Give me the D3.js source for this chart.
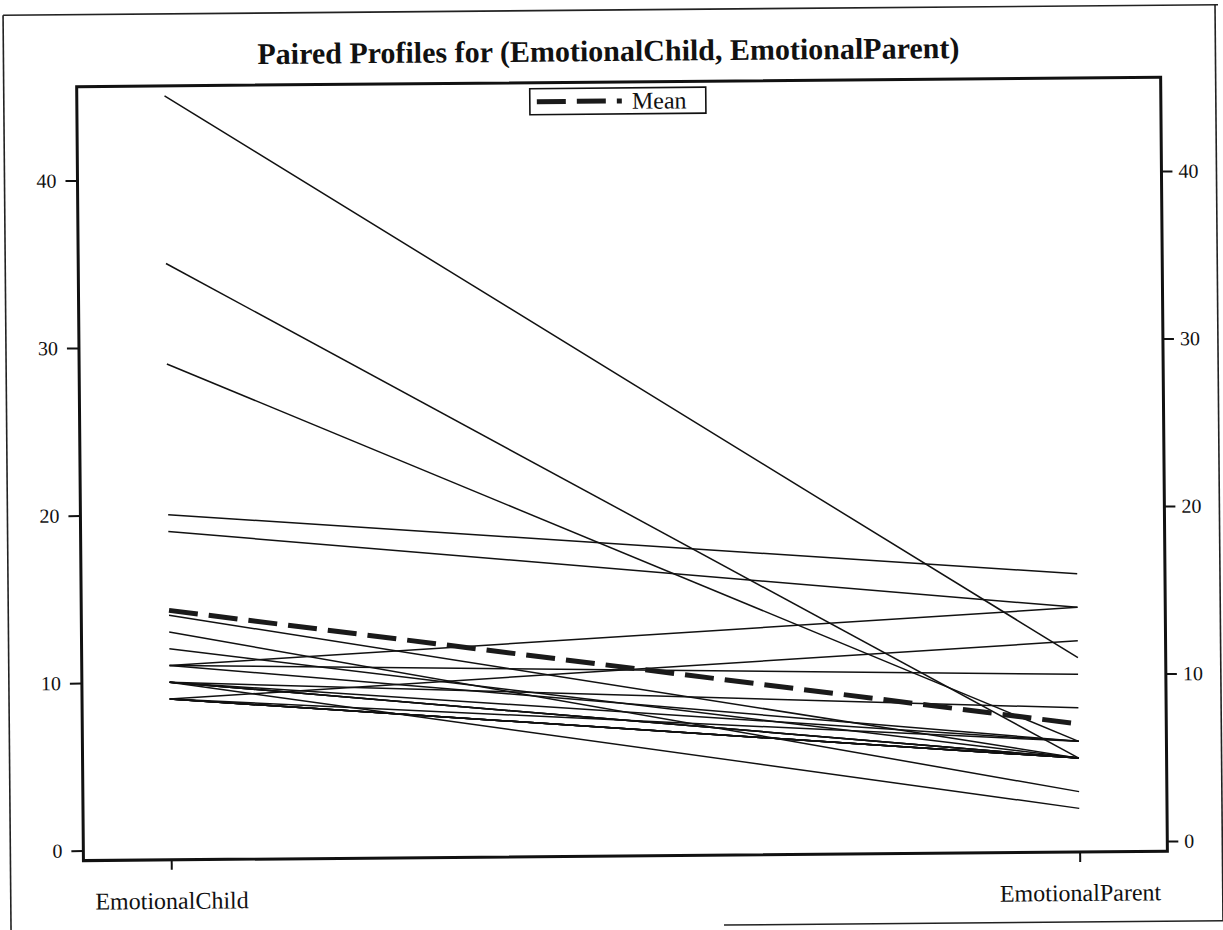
<!DOCTYPE html>
<html>
<head>
<meta charset="utf-8">
<script src="https://cdn.jsdelivr.net/npm/d3@7"></script>
<style>
  html, body { margin: 0; padding: 0; background: #fff; }
  svg { display: block; }
  text { font-family: "Liberation Serif", "Times New Roman", serif; fill: #111; }
</style>
</head>
<body>
<svg id="chart" width="1223" height="930"></svg>
<script>
const categories = ["EmotionalChild", "EmotionalParent"];
const childValues  = [45, 35, 29, 20, 19, 14, 13, 12, 11, 11, 11, 10, 10, 10, 10, 10, 9, 9, 9, 9, 9, 9, 9, 10];
const parentValues = [11, 5, 6, 16, 14, 5, 3, 5, 14, 10, 6, 8, 5, 5, 5, 2, 12, 5, 5, 5, 6, 5, 5, 6];
const yTicks = [0, 10, 20, 30, 40];
const titleText = "Paired Profiles for (EmotionalChild, EmotionalParent)";
const legendLabel = "Mean";

const svg = d3.select("#chart");
const W = 1223, H = 930;
svg.append("rect").attr("width", W).attr("height", H).attr("fill", "#fff");

const root = svg.append("g").attr("transform", "rotate(-0.5, 612, 465)");

// outer border
const border = root.append("g").attr("stroke", "#222").attr("stroke-width", 1.6).attr("fill", "none");
border.append("line").attr("x1", 7).attr("y1", 10).attr("x2", 1222).attr("y2", 10);
border.append("line").attr("x1", 7).attr("y1", 10).attr("x2", 7).attr("y2", 934);
border.append("line").attr("x1", 1219).attr("y1", 10).attr("x2", 1219).attr("y2", 926);
border.append("line").attr("x1", 720).attr("y1", 926).attr("x2", 1222).attr("y2", 926);

const plot = { left: 80, right: 1164, top: 82, bottom: 856 };

const x = d3.scalePoint().domain(categories).range([plot.left, plot.right]).padding(0.0966);
const y = d3.scaleLinear().domain([-0.6, 45.6]).range([plot.bottom, plot.top]);

// title
root.append("text")
  .attr("x", 612).attr("y", 61)
  .attr("text-anchor", "middle")
  .attr("font-size", 30).attr("font-weight", "bold")
  .text(titleText);

// profiles
const pairs = childValues.map((c, i) => [c, parentValues[i]]);
const line = d3.line().x((d, i) => x(categories[i])).y(d => y(d));
root.append("g").selectAll("path").data(pairs).join("path")
  .attr("d", d => line(d))
  .attr("fill", "none").attr("stroke", "#111").attr("stroke-width", 1.5);

// mean
const meanValues = [d3.mean(childValues), d3.mean(parentValues)];
root.append("path")
  .attr("d", line(meanValues))
  .attr("fill", "none").attr("stroke", "#1a1a1a").attr("stroke-width", 5)
  .attr("stroke-dasharray", "29 11");

// axes
const axL = root.append("g").attr("transform", `translate(${plot.left},0)`)
  .call(d3.axisLeft(y).tickValues(yTicks).tickSize(12).tickPadding(9).tickFormat(d3.format("d")));
const axR = root.append("g").attr("transform", `translate(${plot.right},0)`)
  .call(d3.axisRight(y).tickValues(yTicks).tickSize(11).tickPadding(6).tickFormat(d3.format("d")));
const axB = root.append("g").attr("transform", `translate(0,${plot.bottom})`)
  .call(d3.axisBottom(x).tickSize(10).tickPadding(22));
[axL, axR, axB].forEach(a => {
  a.select(".domain").remove();
  a.selectAll("line").attr("stroke", "#111").attr("stroke-width", 2);
  a.selectAll("text").attr("font-family", "Liberation Serif, serif").attr("fill", "#111");
});
axL.selectAll("text").attr("font-size", 20);
axR.selectAll("text").attr("font-size", 20);
axB.selectAll("text").attr("font-size", 24);

// frame
root.append("rect")
  .attr("x", plot.left).attr("y", plot.top)
  .attr("width", plot.right - plot.left).attr("height", plot.bottom - plot.top)
  .attr("fill", "none").attr("stroke", "#111").attr("stroke-width", 3);

// legend
const lg = root.append("g").attr("transform", "translate(533,88)");
lg.append("rect").attr("width", 176).attr("height", 26)
  .attr("fill", "#fff").attr("stroke", "#111").attr("stroke-width", 1.6);
lg.append("line").attr("x1", 7).attr("x2", 92).attr("y1", 13).attr("y2", 13)
  .attr("stroke", "#1a1a1a").attr("stroke-width", 5).attr("stroke-dasharray", "29 11");
lg.append("text").attr("x", 102).attr("y", 21).attr("font-size", 24).text(legendLabel);
</script>
</body>
</html>
